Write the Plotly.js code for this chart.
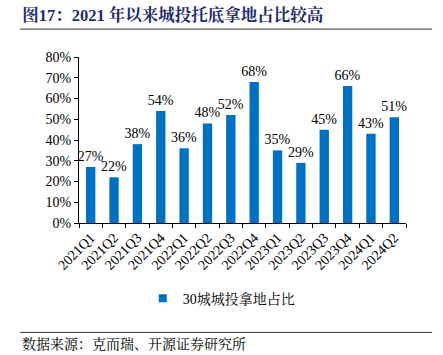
<!DOCTYPE html>
<html><head><meta charset="utf-8">
<script src="https://cdn.plot.ly/plotly-3.0.1.min.js"></script>
<style>body{margin:0;padding:0;background:#fff}#c{width:443px;height:355px}</style>
</head><body><div id="c"></div>
<script>
const categories = ["2021Q1","2021Q2","2021Q3","2021Q4","2022Q1","2022Q2","2022Q3","2022Q4","2023Q1","2023Q2","2023Q3","2023Q4","2024Q1","2024Q2"];
const shareValues = [0.27,0.22,0.38,0.54,0.36,0.48,0.52,0.68,0.35,0.29,0.45,0.66,0.43,0.51];
const seriesName = "30城城投拿地占比";
const titleText = "图17：2021 年以来城投托底拿地占比较高";
const sourceText = "数据来源：克而瑞、开源证券研究所";

const serif = "'Liberation Serif', 'Times New Roman', 'Noto Serif CJK SC', 'Noto Sans CJK SC', serif";
const barColor = "#0070C0";
const trace = {
  type: "bar", x: categories, y: shareValues, name: seriesName,
  marker: {color: barColor}, width: 0.4,
  text: shareValues.map(v => Math.round(v*100) + "%"),
  textposition: "outside", cliponaxis: false, constraintext: "none",
  textfont: {family: serif, size: 14, color: "#000"},
  showlegend: false
};
const legendTrace = {
  type: "scatter", mode: "markers", x: [null], y: [null], name: seriesName,
  marker: {symbol: "square", size: 8, color: barColor}, showlegend: true, hoverinfo: "skip"
};
const layout = {
  width: 443, height: 355,
  margin: {l: 79, r: 37, t: 57, b: 132},
  paper_bgcolor: "#fff", plot_bgcolor: "#fff",
  font: {family: serif, color: "#000"},
  title: {text: "<b>" + titleText + "</b>", x: 0.05, xanchor: "left", y: 0.958, yanchor: "middle",
          font: {family: serif, size: 16.5, color: "#1F2C6B"}},
  xaxis: {type: "category", showline: true, linecolor: "#000", linewidth: 1,
          ticks: "outside", tickson: "boundaries", ticklen: 4, tickcolor: "#000",
          tickangle: -45, tickfont: {family: serif, size: 14, color: "#000"},
          showgrid: false, zeroline: false},
  yaxis: {range: [0, 0.8], dtick: 0.1, tickformat: ".0%", showline: true, linecolor: "#000", linewidth: 1,
          ticks: "outside", ticklen: 4, tickcolor: "#000", showgrid: false, zeroline: false,
          tickfont: {family: serif, size: 14, color: "#000"}},
  legend: {orientation: "h", x: 0.435, xanchor: "center", y: -0.455, yanchor: "middle",
           font: {family: serif, size: 14, color: "#000"}, itemwidth: 30},
  shapes: [
    {type: "line", xref: "paper", yref: "paper", x0: -0.18, x1: 1.08, y0: 1.168, y1: 1.168, line: {color: "#333", width: 1}},
    {type: "line", xref: "paper", yref: "paper", x0: -0.18, x1: 1.08, y0: -0.659, y1: -0.659, line: {color: "#333", width: 1}}
  ],
  annotations: [
    {text: sourceText, xref: "paper", yref: "paper", x: -0.18, xanchor: "left", y: -0.73, yanchor: "middle",
     showarrow: false, font: {family: serif, size: 14, color: "#000"}}
  ]
};
Plotly.newPlot("c", [trace, legendTrace], layout, {staticPlot: true, displayModeBar: false});
</script></body></html>
